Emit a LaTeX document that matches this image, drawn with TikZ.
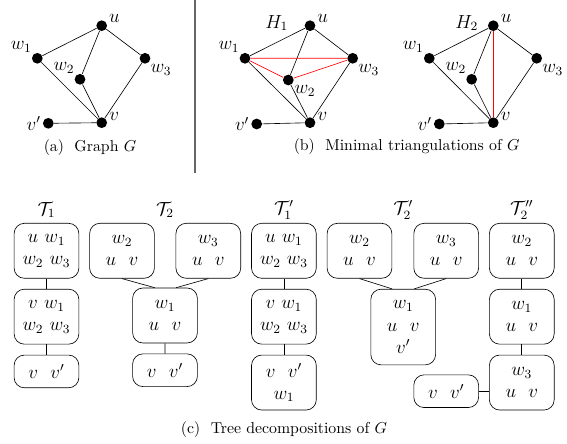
\documentclass[tikz,border=0pt]{standalone}
\usepackage{amsmath}
\usetikzlibrary{positioning}

\begin{document}
\begin{tikzpicture}
  [x=0.633pt,y=-0.633pt,
   vtx/.style={circle,fill,inner sep=0pt,minimum size=6.8pt},
   lbl/.style={inner sep=1pt,font=\large},
   bag/.style={draw,rounded corners=6.5pt,align=center,minimum width=41pt,inner sep=2pt,font=\large},
   bagone/.style={bag,minimum height=20.7pt},
   bagtwo/.style={bag,minimum height=34.8pt},
   bagthree/.style={bag,minimum height=47.9pt},
   fill-in/.style={red,thin},
   node distance=6.5pt]
  \useasboundingbox (0,0) rectangle (567,444);

  % (a) graph G
  \node[vtx,label={[lbl]10:$u$}] (a-u) at (101.7,25.7) {};
  \node[vtx,label={[lbl]130:$w_1$}] (a-w1) at (37.3,58.3) {};
  \node[vtx,label={[lbl]130:$w_2$}] (a-w2) at (80,79.3) {};
  \node[vtx,label={[lbl]-50:$w_3$}] (a-w3) at (145,58.3) {};
  \node[vtx,label={[lbl]5:$v$}] (a-v) at (101.7,122.7) {};
  \node[vtx,label={[lbl]180:$v'$}] (a-vp) at (48.3,123.3) {};
  \draw (a-u) -- (a-w1) (a-u) -- (a-w2) (a-u) -- (a-w3)
        (a-v) -- (a-w1) (a-v) -- (a-w2) (a-v) -- (a-w3) (a-v) -- (a-vp);
  \node (cap-a) at (90,148) {(a)~~Graph $G$};

  \draw[gray!80!black,line width=0.8pt] (195,0) -- (195,172.7);

  % (b) H_1
  \node[lbl] (h1) at (276.7,23) {$H_1$};
  \node[vtx,label={[lbl]10:$u$}] (b-u) at (310,25.7) {};
  \node[vtx,label={[lbl]130:$w_1$}] (b-w1) at (245,58.3) {};
  \node[vtx,label={[lbl]-40:$w_2$}] (b-w2) at (288.3,80) {};
  \node[vtx,label={[lbl]-50:$w_3$}] (b-w3) at (352.7,58.3) {};
  \node[vtx,label={[lbl]5:$v$}] (b-v) at (310,122.7) {};
  \node[vtx,label={[lbl]180:$v'$}] (b-vp) at (256.7,124) {};
  \draw (b-u) -- (b-w1) (b-u) -- (b-w2) (b-u) -- (b-w3)
        (b-v) -- (b-w1) (b-v) -- (b-w2) (b-v) -- (b-w3) (b-v) -- (b-vp);
  \draw[fill-in] (b-w1) -- (b-w3) (b-w1) -- (b-w2) -- (b-w3);

  % (b) H_2
  \node[lbl] (h2) at (466.7,23) {$H_2$};
  \node[vtx,label={[lbl]10:$u$}] (c-u) at (493.3,25.7) {};
  \node[vtx,label={[lbl]130:$w_1$}] (c-w1) at (429.3,58.3) {};
  \node[vtx,label={[lbl]130:$w_2$}] (c-w2) at (471.7,79.3) {};
  \node[vtx,label={[lbl]-50:$w_3$}] (c-w3) at (536.7,58.3) {};
  \node[vtx,label={[lbl]5:$v$}] (c-v) at (493.3,122.7) {};
  \node[vtx,label={[lbl]180:$v'$}] (c-vp) at (439.3,124) {};
  \draw (c-u) -- (c-w1) (c-u) -- (c-w2) (c-u) -- (c-w3)
        (c-v) -- (c-w1) (c-v) -- (c-w2) (c-v) -- (c-w3) (c-v) -- (c-vp);
  \draw[fill-in] (c-u) -- (c-v);
  \node (cap-b) at (406.7,147) {(b)~~Minimal triangulations of $G$};

  % (c) tree decompositions
  \node[lbl] (t1) at (46.5,210) {$\mathcal{T}_1$};
  \node[bagtwo] (t1a) at (46.5,250.8) {$u\ w_1$\\$w_2\ w_3$};
  \node[bagtwo,below=of t1a] (t1b) {$v\ w_1$\\$w_2\ w_3$};
  \node[bagone,below=of t1b] (t1c) {$v\ \ v'$};
  \draw (t1a) -- (t1b) (t1b) -- (t1c);

  \node[lbl] (t2) at (165,210) {$\mathcal{T}_2$};
  \node[bagtwo] (t2l) at (122,250.8) {$w_2$\\$u\ \ v$};
  \node[bagtwo] (t2r) at (208.3,250.8) {$w_3$\\$u\ \ v$};
  \node[bagtwo] (t2m) at (165,315.5) {$w_1$\\$u\ \ v$};
  \node[bagone,below=of t2m] (t2c) {$v\ \ v'$};
  \draw (t2l.south) -- ([xshift=-6.5pt]t2m.north)
        (t2r.south) -- ([xshift=7pt]t2m.north)
        (t2m) -- (t2c);

  \node[lbl] (t1p) at (283.9,210) {$\mathcal{T}'_1$};
  \node[bagtwo] (t1pa) at (283.9,250.8) {$u\ w_1$\\$w_2\ w_3$};
  \node[bagtwo,below=of t1pa] (t1pb) {$v\ w_1$\\$w_2\ w_3$};
  \node[bagtwo,below=of t1pb] (t1pc) {$v\ \ v'$\\$w_1$};
  \draw (t1pa) -- (t1pb) (t1pb) -- (t1pc);

  \node[lbl] (t2p) at (403.2,210) {$\mathcal{T}'_2$};
  \node[bagtwo] (t2pl) at (359.5,250.8) {$w_2$\\$u\ \ v$};
  \node[bagtwo] (t2pr) at (446.2,250.8) {$w_3$\\$u\ \ v$};
  \node[bagthree,below=of t2pl.south -| t2p] (t2pm) {$w_1$\\$u\ \ v$\\$v'$};
  \draw (t2pl.south) -- ([xshift=-7pt]t2pm.north)
        (t2pr.south) -- ([xshift=7pt]t2pm.north);

  \node[lbl] (t2pp) at (521.8,210) {$\mathcal{T}''_2$};
  \node[bagtwo] (t2ppa) at (521.8,250.8) {$w_2$\\$u\ \ v$};
  \node[bagtwo,below=of t2ppa] (t2ppb) {$w_1$\\$u\ \ v$};
  \node[bagtwo,below=of t2ppb] (t2ppc) {$w_3$\\$u\ \ v$};
  \node[bagone] (t2ppd) at (446.2,391.2) {$v\ \ v'$};
  \draw (t2ppa) -- (t2ppb) (t2ppb) -- (t2ppc)
        (t2ppd) -- (t2ppd -| t2ppc.west);
  \node (cap-c) at (284,430) {(c)~~Tree decompositions of $G$};
\end{tikzpicture}
\end{document}
